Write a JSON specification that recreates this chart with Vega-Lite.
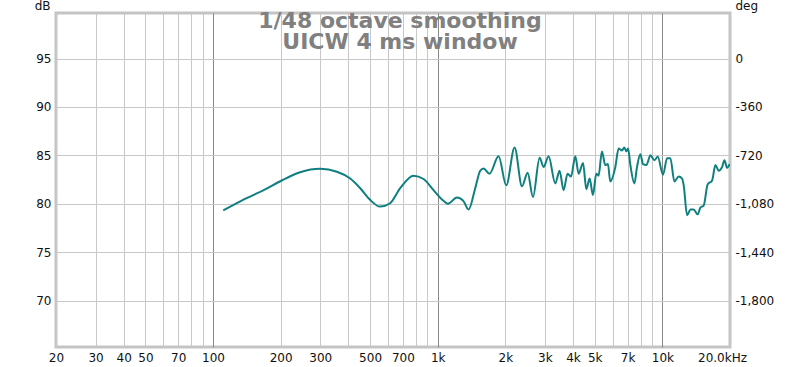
{
  "$schema": "https://vega.github.io/schema/vega-lite/v6.json",
  "width": 674,
  "height": 334,
  "autosize": {"type": "none"},
  "padding": {"left": 56, "top": 13, "right": 70, "bottom": 20},
  "background": "white",
  "config": {
    "view": {"stroke": "#c4c4c4", "strokeWidth": 3},
    "font": "DejaVu Sans",
    "axis": {"labelFont": "DejaVu Sans", "labelFontSize": 12, "labelColor": "#111111", "titleFont": "DejaVu Sans", "titleFontSize": 12, "titleFontWeight": "normal", "titleColor": "#111111", "ticks": false, "domain": false}
  },
  "title": {
    "text": ["1/48 octave smoothing", "UICW 4 ms window"],
    "anchor": "middle",
    "frame": "group",
    "baseline": "top",
    "offset": -55,
    "dx": 7,
    "lineHeight": 21,
    "font": "DejaVu Sans",
    "fontSize": 22,
    "fontWeight": "bold",
    "color": "#808080"
  },
  "data": {
    "values": [
      {"f": 111, "db": 79.3}, {"f": 136, "db": 80.4}, {"f": 168, "db": 81.4}, {"f": 202, "db": 82.4},
      {"f": 244, "db": 83.25}, {"f": 300, "db": 83.6}, {"f": 356, "db": 83.3}, {"f": 408, "db": 82.6},
      {"f": 452, "db": 81.6}, {"f": 500, "db": 80.4}, {"f": 554, "db": 79.7}, {"f": 614, "db": 80.05},
      {"f": 681, "db": 81.6}, {"f": 780, "db": 82.9}, {"f": 865, "db": 82.55}, {"f": 958, "db": 81.4},
      {"f": 1061, "db": 80.3}, {"f": 1110, "db": 80.0}, {"f": 1218, "db": 80.65}, {"f": 1300, "db": 80.3},
      {"f": 1372, "db": 79.4}, {"f": 1469, "db": 81.6}, {"f": 1546, "db": 83.4}, {"f": 1600, "db": 83.65},
      {"f": 1701, "db": 83.1}, {"f": 1866, "db": 84.9}, {"f": 2019, "db": 81.9}, {"f": 2199, "db": 85.8},
      {"f": 2372, "db": 81.8}, {"f": 2513, "db": 83.2}, {"f": 2655, "db": 80.7}, {"f": 2842, "db": 84.75},
      {"f": 2959, "db": 83.8}, {"f": 3116, "db": 84.9}, {"f": 3337, "db": 82.1}, {"f": 3487, "db": 83.4},
      {"f": 3633, "db": 81.4}, {"f": 3785, "db": 83.1}, {"f": 3920, "db": 82.8}, {"f": 4098, "db": 84.9},
      {"f": 4238, "db": 83.1}, {"f": 4436, "db": 84.2}, {"f": 4586, "db": 81.5}, {"f": 4745, "db": 82.6},
      {"f": 4910, "db": 80.9}, {"f": 5080, "db": 83.1}, {"f": 5200, "db": 82.9}, {"f": 5383, "db": 85.4},
      {"f": 5569, "db": 84.0}, {"f": 5725, "db": 84.1}, {"f": 5861, "db": 82.3}, {"f": 6175, "db": 83.8},
      {"f": 6387, "db": 85.7}, {"f": 6610, "db": 85.5}, {"f": 6770, "db": 85.8}, {"f": 6915, "db": 85.4},
      {"f": 7035, "db": 85.7}, {"f": 7203, "db": 84.0}, {"f": 7505, "db": 82.1}, {"f": 7713, "db": 83.8},
      {"f": 7980, "db": 85.1}, {"f": 8203, "db": 84.1}, {"f": 8487, "db": 84.0}, {"f": 8846, "db": 85.0},
      {"f": 9213, "db": 84.5}, {"f": 9535, "db": 84.85}, {"f": 10070, "db": 83.0}, {"f": 10497, "db": 84.7},
      {"f": 10855, "db": 84.7}, {"f": 11310, "db": 82.3}, {"f": 11820, "db": 82.8}, {"f": 12240, "db": 82.6},
      {"f": 12445, "db": 81.9}, {"f": 12885, "db": 78.8}, {"f": 13330, "db": 79.4}, {"f": 13780, "db": 79.4},
      {"f": 14360, "db": 78.9}, {"f": 14760, "db": 79.6}, {"f": 15270, "db": 79.8}, {"f": 15910, "db": 82.0},
      {"f": 16650, "db": 82.4}, {"f": 17220, "db": 84.0}, {"f": 17820, "db": 83.4}, {"f": 18450, "db": 83.8},
      {"f": 18890, "db": 84.5}, {"f": 19410, "db": 83.7}, {"f": 19950, "db": 84.1}
    ]
  },
  "resolve": {"axis": {"y": "independent"}},
  "layer": [
    {
      "mark": {"type": "line", "stroke": "#0f7f7f", "strokeWidth": 2, "interpolate": "monotone", "clip": true},
      "encoding": {
        "x": {
          "field": "f", "type": "quantitative",
          "scale": {"type": "log", "domain": [20, 20000], "nice": false},
          "axis": {
            "title": null,
            "values": [20, 30, 40, 50, 60, 70, 80, 90, 100, 200, 300, 400, 500, 600, 700, 800, 900, 1000, 2000, 3000, 4000, 5000, 6000, 7000, 8000, 9000, 10000, 20000],
            "labelExpr": "indexof([20,30,40,50,70,100,200,300,500,700,1000,2000,3000,4000,5000,7000,10000,20000], datum.value) < 0 ? '' : (datum.value == 20000 ? '20.0kHz' : (datum.value >= 1000 ? (datum.value/1000) + 'k' : datum.value + ''))",
            "labelFlush": false,
            "labelOverlap": false,
            "labelPadding": 5,
            "labelOffset": {"condition": {"test": "datum.value == 20000", "value": -8}, "value": 0},
            "grid": true,
            "gridColor": {"condition": {"test": "datum.value == 100 || datum.value == 1000 || datum.value == 10000", "value": "#888888"}, "value": "#c8c8c8"},
            "gridWidth": 1
          }
        },
        "y": {
          "field": "db", "type": "quantitative",
          "scale": {"domain": [65.2, 99.7], "nice": false, "zero": false},
          "axis": {
            "orient": "left",
            "title": "dB",
            "titleAngle": 0,
            "titleAlign": "right",
            "titleBaseline": "middle",
            "titleX": -6,
            "titleY": -8,
            "values": [70, 75, 80, 85, 90, 95],
            "labelPadding": 5,
            "grid": true,
            "gridColor": "#c8c8c8",
            "gridWidth": 1
          }
        }
      }
    },
    {
      "mark": {"type": "line", "strokeOpacity": 0},
      "encoding": {
        "x": {"field": "f", "type": "quantitative"},
        "y": {
          "field": "db", "type": "quantitative",
          "axis": {
            "orient": "right",
            "title": "deg",
            "titleAngle": 0,
            "titleAlign": "left",
            "titleBaseline": "middle",
            "titleX": 5,
            "titleY": -8,
            "values": [70, 75, 80, 85, 90, 95],
            "labelExpr": "datum.value == 95 ? '0' : '-' + format((95 - datum.value) * 72, ',')",
            "labelPadding": 5,
            "grid": false
          }
        }
      }
    }
  ]
}
